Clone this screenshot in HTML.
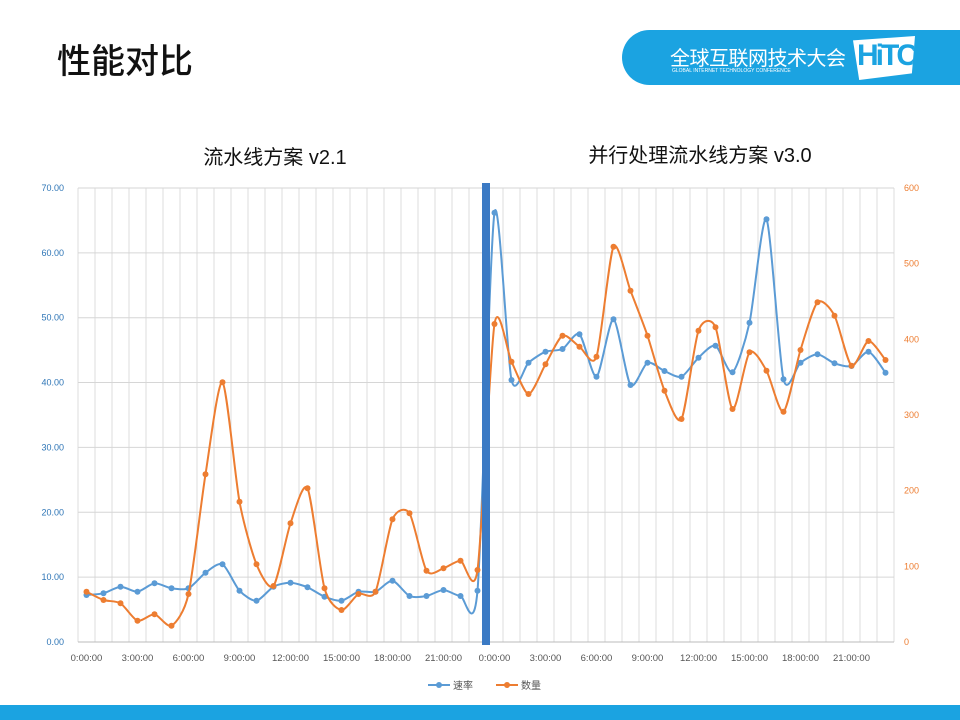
<!DOCTYPE html>
<html><head><meta charset="utf-8"><style>
body{margin:0;width:960px;height:720px;background:#fff;overflow:hidden;position:relative;font-family:"Liberation Sans","Noto Sans CJK SC",sans-serif}
</style></head><body>
<div style="position:absolute;left:57px;top:34px;font-size:34px;color:#111;font-weight:500">性能对比</div>
<div style="position:absolute;left:622px;top:30px;width:360px;height:55px;background:#1ba3e1;border-radius:28px 0 0 28px"></div>
<div style="position:absolute;left:670px;top:42px;font-size:20px;color:#fff;letter-spacing:-0.5px">全球互联网技术大会</div>
<div style="position:absolute;left:672px;top:68px;font-size:5px;color:#fff">GLOBAL INTERNET TECHNOLOGY CONFERENCE</div>
<div style="position:absolute;left:853px;top:36px;width:62px;height:44px;background:#fff;clip-path:polygon(0 10%,100% 0,95% 85%,10% 100%);overflow:hidden">
<div style="position:absolute;left:4px;top:3px;font-size:30px;font-weight:bold;color:#1ba3e1;letter-spacing:-3px">HiTC</div></div>
<div style="position:absolute;left:0;top:705px;width:960px;height:15px;background:#1ba3e1"></div>
<svg width="960" height="720" style="position:absolute;left:0;top:0" id="s"></svg>
<script>
const s=document.getElementById('s');let h='';
h+='<text x="275" y="164" font-size="20" text-anchor="middle" fill="#111">流水线方案 v2.1</text>';
h+='<text x="700" y="162" font-size="20" text-anchor="middle" fill="#111">并行处理流水线方案 v3.0</text>';
for(let i=0;i<=48;i++){const x=78+i*17;h+=`<line x1="${x}" y1="188" x2="${x}" y2="642" stroke="#dcdcdc" stroke-width="1"/>`;}
for(let k=0;k<=7;k++){const y=642-k*64.86;h+=`<line x1="78" y1="${y}" x2="894" y2="${y}" stroke="#d6d6d6"/>`;
h+=`<text x="64" y="${y+3}" font-size="9" text-anchor="end" fill="#2e75b6">${(k*10).toFixed(2)}</text>`;}
for(let k=0;k<=6;k++){const y=642-k*75.67;h+=`<text x="904" y="${y+3}" font-size="9" fill="#ed7d31">${k*100}</text>`;}
h+='<line x1="78" y1="642" x2="894" y2="642" stroke="#bbb"/>';
for(let i=0;i<16;i++){const x=86.5+i*51;const hr=(i%8)*3;h+=`<text x="${x}" y="661" font-size="9.5" text-anchor="middle" fill="#555">${hr}:00:00</text>`;}
const B=[595,593.3,586.7,591.7,583.3,588.3,588.3,572.7,564.3,590.7,600.7,586.7,582.7,587.3,596.7,600.7,591.7,591.7,580.7,596,596,590,596,590.7,
212.7,380,362.7,351.7,349,334.3,376.7,319.3,385,362.7,371,376.7,357.7,345.7,372.3,322.7,219.3,379.3,362.7,354.3,363.3,366,351.7,372.7];
const O=[591.7,600,603.3,620.7,614.3,625.7,594,474.3,382.3,501.7,564.3,586,523.3,488.3,588.3,610,594,591.7,519.3,513.3,570.7,568.3,560.7,570,
324,361.7,394,364.3,335.7,346.7,356.7,246.7,290.7,335.7,390.7,419,330.7,327.3,409,352.3,370.7,411.7,350,302.3,315.7,365.7,341,360];
const T=8;
function path(Y,c){const P=Y.map((y,i)=>[86.5+i*17,y]);let d=`M${P[0][0]},${P[0][1]}`;
for(let i=0;i<P.length-1;i++){const p0=P[i-1]||P[i],p1=P[i],p2=P[i+1],p3=P[i+2]||p2;
d+=`C${p1[0]+(p2[0]-p0[0])/T},${p1[1]+(p2[1]-p0[1])/T} ${p2[0]-(p3[0]-p1[0])/T},${p2[1]-(p3[1]-p1[1])/T} ${p2[0]},${p2[1]}`;}
let r=`<path d="${d}" fill="none" stroke="${c}" stroke-width="2"/>`;P.forEach(p=>r+=`<circle cx="${p[0]}" cy="${p[1]}" r="3" fill="${c}"/>`);return r;}
h+=path(B,'#5b9bd5');h+=path(O,'#ed7d31');
h+='<rect x="482" y="183" width="8" height="462" fill="#3b7ac4"/>';
h+='<line x1="428" y1="685" x2="450" y2="685" stroke="#5b9bd5" stroke-width="2"/><circle cx="439" cy="685" r="3" fill="#5b9bd5"/><text x="453" y="689" font-size="10" fill="#555">速率</text>';
h+='<line x1="496" y1="685" x2="518" y2="685" stroke="#ed7d31" stroke-width="2"/><circle cx="507" cy="685" r="3" fill="#ed7d31"/><text x="521" y="689" font-size="10" fill="#555">数量</text>';
s.innerHTML=h;
</script>
</body></html>
